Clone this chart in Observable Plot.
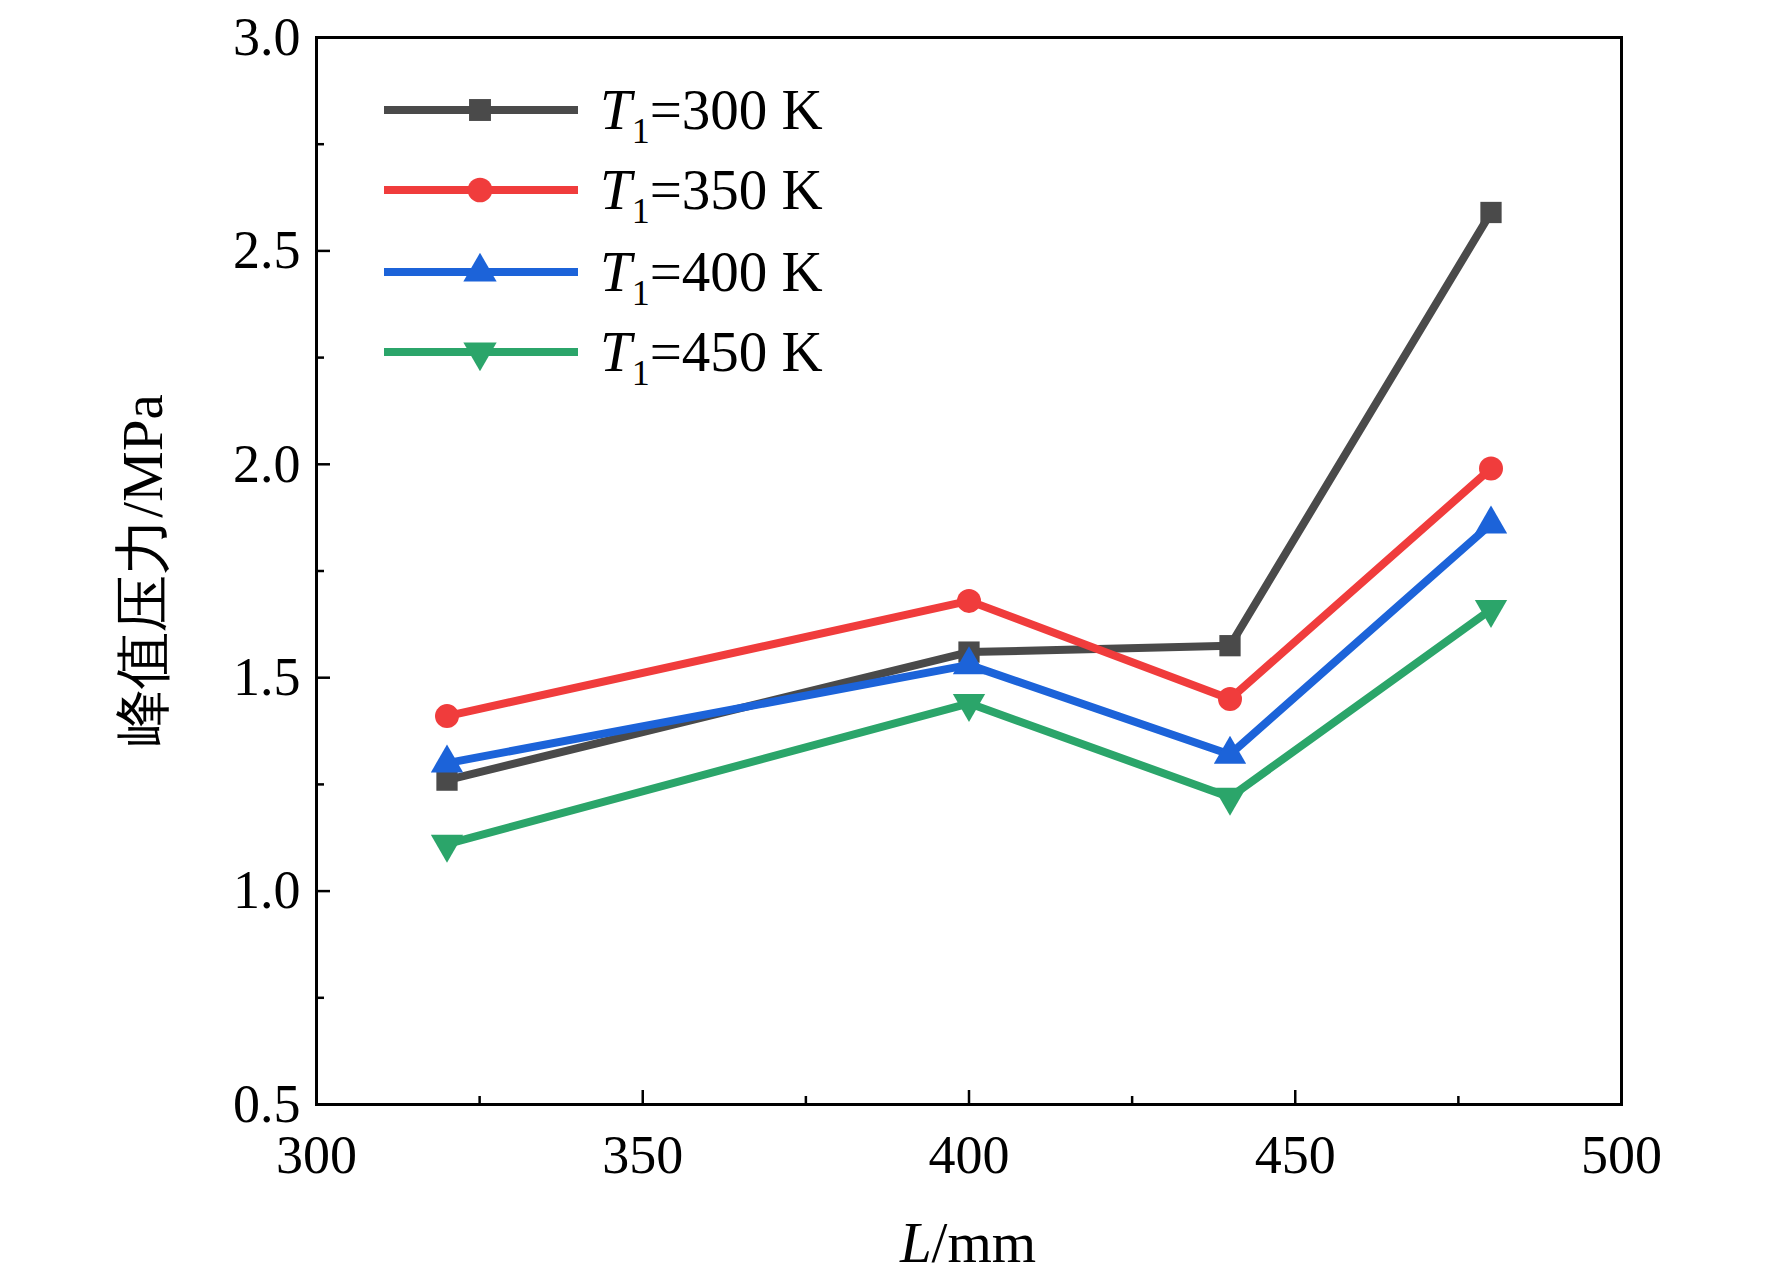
<!DOCTYPE html>
<html><head><meta charset="utf-8">
<script src="https://cdn.jsdelivr.net/npm/d3@7"></script>
<script src="https://cdn.jsdelivr.net/npm/@observablehq/plot@0.6"></script>
<style>body{margin:0;background:#fff}#c{position:relative;width:1772px;height:1282px}</style>
</head><body><div id="c"></div>
<script>
const L = [320, 400, 440, 480];
const seriesNames = ["300", "350", "400", "450"];
const p300 = [1.26, 1.56, 1.575, 2.59];
const p350 = [1.41, 1.68, 1.45, 1.99];
const p400 = [1.30, 1.53, 1.32, 1.86];
const p450 = [1.11, 1.44, 1.22, 1.66];
const colors = ["#4a4a4a", "#f03c3c", "#1c63d9", "#2ba56a"];
const symbols = ["square", "circle", "triangle", "triangle"];
const rotations = [0, 0, 0, 180];
const xMajor = [300, 350, 400, 450, 500];
const xMinor = [325, 375, 425, 475];
const yMajor = [0.5, 1.0, 1.5, 2.0, 2.5, 3.0];
const yMinor = [0.75, 1.25, 1.75, 2.25, 2.75];

const all = [p300, p350, p400, p450];
const data = [];
all.forEach((arr, s) => arr.forEach((v, i) => data.push({L: L[i], p: v, s})));

const font = "Liberation Serif, Times New Roman, serif";
const marks = [];
all.forEach((arr, s) => {
  const d = data.filter(r => r.s === s);
  marks.push(Plot.line(d, {x: "L", y: "p", stroke: colors[s], strokeWidth: 8}));
  marks.push(Plot.dot(d, {x: "L", y: "p", fill: colors[s], symbol: symbols[s], rotate: rotations[s], r: 12}));
});
const chart = Plot.plot({
  width: 1772, height: 1282,
  marginLeft: 316, marginRight: 151, marginTop: 37, marginBottom: 178,
  style: {fontFamily: font, fontSize: "54px", color: "#000", background: "#fff"},
  x: {domain: [300, 500]},
  y: {domain: [0.5, 3.0]},
  marks: [
    ...marks,
    Plot.axisX(xMajor, {tickSize: -14, tickPadding: 44, tickFormat: d => d, label: null, fontSize: 54, strokeWidth: 2.5}),
    Plot.axisX(xMinor, {tickSize: -8, tickFormat: null, text: null, label: null, strokeWidth: 2.5}),
    Plot.axisY(yMajor, {tickSize: -14, tickPadding: 30, tickFormat: d => d.toFixed(1), label: null, fontSize: 54, strokeWidth: 2.5}),
    Plot.axisY(yMinor, {tickSize: -8, tickFormat: null, text: null, label: null, strokeWidth: 2.5}),
    Plot.frame({stroke: "#000", strokeWidth: 3})
  ]
});
const c = document.getElementById("c");
c.appendChild(chart);

// overlay legend and axis titles
const svg = d3.select(c).append("svg").attr("width", 1772).attr("height", 1282)
  .style("position", "absolute").style("left", 0).style("top", 0)
  .style("font-family", font);
const ly = [110, 190, 272, 352];
const sym = [d3.symbolSquare, d3.symbolCircle, d3.symbolTriangle, d3.symbolTriangle];
seriesNames.forEach((n, s) => {
  svg.append("line").attr("x1", 384).attr("x2", 578).attr("y1", ly[s]).attr("y2", ly[s])
    .attr("stroke", colors[s]).attr("stroke-width", 8);
  svg.append("path").attr("d", d3.symbol(sym[s], 480)())
    .attr("transform", `translate(480,${ly[s]}) rotate(${rotations[s]})`).attr("fill", colors[s]);
  const t = svg.append("text").attr("x", 600).attr("y", ly[s] + 19).attr("font-size", 57);
  t.append("tspan").attr("font-style", "italic").text("T");
  t.append("tspan").attr("font-size", 36).attr("dy", 14).text("1");
  t.append("tspan").attr("dy", -14).text(`=${n} K`);
});
const xl = svg.append("text").attr("x", 968).attr("y", 1262).attr("text-anchor", "middle").attr("font-size", 57);
xl.append("tspan").attr("font-style", "italic").text("L");
xl.append("tspan").text("/mm");
svg.append("text").attr("transform", "translate(162,570) rotate(-90)").attr("text-anchor", "middle")
  .attr("font-size", 57).text("峰值压力/MPa");
</script></body></html>
